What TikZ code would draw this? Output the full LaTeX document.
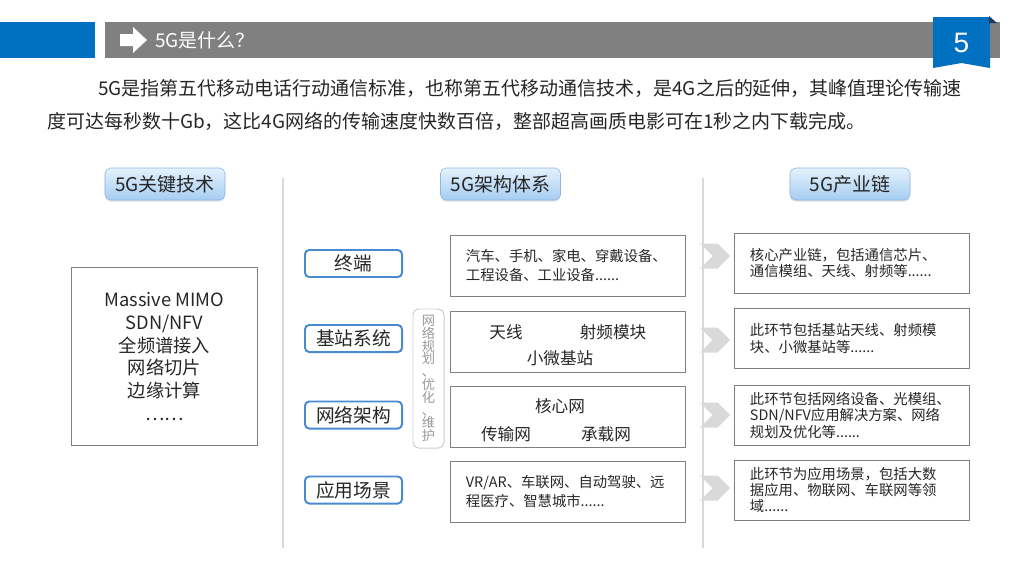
\documentclass[tikz,border=0pt]{standalone}
\usepackage{fontspec}
\setmainfont{Noto Sans CJK SC}
\newfontfamily\numfont{Liberation Sans}
\usepackage{xcolor}
\usepackage{tikz}
\usetikzlibrary{positioning,shapes.symbols,shadows}
\definecolor{mainblue}{HTML}{0070C0}
\definecolor{bargray}{HTML}{808080}
\definecolor{navy}{HTML}{1F3864}
\definecolor{lblue}{HTML}{4A8BD0}
\definecolor{hdtop}{HTML}{E4F1FC}
\definecolor{hdbot}{HTML}{A6CDF2}
\definecolor{hdline}{HTML}{8AB6E2}
\definecolor{sepgray}{HTML}{D9D9D9}
\definecolor{boxgray}{HTML}{808080}
\definecolor{txt}{HTML}{262626}

\begin{document}
\begin{tikzpicture}[x=0.025cm, y=-0.025cm,
  hd/.style={draw=hdline, rounded corners=4pt, top color=hdtop, bottom color=hdbot,
    minimum width=3cm, minimum height=0.8cm, font=\fontsize{13.5}{15}\selectfont, text=txt,
    drop shadow={opacity=0.25, shadow xshift=0pt, shadow yshift=-1.2pt}},
  lb/.style={draw=lblue, line width=1.4pt, rounded corners=3pt, fill=white,
    minimum width=2.425cm, minimum height=0.675cm, font=\fontsize{13.3}{15}\selectfont, text=txt},
  bx/.style={draw=boxgray, line width=0.7pt, minimum width=5.85cm, minimum height=1.525cm, text=txt},
  tw/.style={text width=5.1cm, inner xsep=0.375cm, align=left},
  sm/.style={tw, font=\fontsize{10.2}{13.5}\selectfont},
  rs/.style={tw, minimum height=1.5cm, font=\fontsize{10.2}{11.7}\selectfont},
  md/.style={font=\fontsize{11.8}{13}\selectfont, text=txt},
  pp/.style={anchor=west, inner sep=0pt, font=\fontsize{13.5}{15}\selectfont, text=txt},
  ch/.style={shape=signal, signal from=west, signal to=east, fill=sepgray,
    minimum width=0.75cm, minimum height=0.625cm, inner sep=0pt},
  sep/.style={draw=sepgray, line width=0.8pt}]
\useasboundingbox (0,0) rectangle (1024,575);

\fill[mainblue] (0,22) rectangle (95,58);
\fill[bargray] (105,22) rectangle (1000,58);
\fill[white] (120,34) -- (133,34) -- (133,27) -- (147,40) -- (133,53) -- (133,46) -- (120,46) -- cycle;
\node[anchor=west, inner sep=0pt, text=white, font=\fontsize{13.5}{15}\selectfont] (ttl) at (155,40) {5G是什么？};
\fill[mainblue] (933,17) -- (990,17) -- (990,68) -- (961.5,63) -- (933,68) -- cycle;
\fill[navy] (989,16) -- (997,23) -- (989,23) -- cycle;
\node[text=white, font=\numfont\fontsize{20}{22}\selectfont] (pg) at (961.5,43) {5};

\node[pp] (p1) at (98,88) {\XeTeXlinebreaklocale "zh"\XeTeXlinebreakskip=0pt plus 3pt\relax
  \makebox[21.75cm][s]{5G是指第五代移动电话行动通信标准，也称第五代移动通信技术，是4G之后的延伸，其峰值理论传输速}};
\node[pp] (p2) at (47,121) {度可达每秒数十Gb，这比4G网络的传输速度快数百倍，整部超高画质电影可在1秒之内下载完成。};

\draw[sep] (283,178) -- (283,548);
\draw[sep] (703,178) -- (703,548);

\node[hd] (h1) at (165,184) {5G关键技术};
\node[hd] (h2) at (500.5,184) {5G架构体系};
\node[hd] (h3) at (850,184) {5G产业链};

\node[draw=boxgray, line width=0.7pt, minimum width=4.625cm, minimum height=4.425cm, align=center,
  font=\fontsize{13}{16.3}\selectfont, text=txt] (kt) at (164.5,356.5)
  {Massive MIMO\\SDN/NFV\\全频谱接入\\网络切片\\边缘计算\\……};

\node[lb] (l1) at (353.5,263.5) {终端};
\node[lb] (l2) at (353.5,338.5) {基站系统};
\node[lb] (l3) at (353.5,415) {网络架构};
\node[lb] (l4) at (353.5,490) {应用场景};

\node[draw=gray!40, rounded corners=4pt, line width=0.7pt, minimum width=0.775cm, minimum height=3.475cm,
  align=center, font=\fontsize{9.4}{9.1}\selectfont, text=gray!80] (gh) at (428.5,378.5)
  {网\\络\\规\\划\\、\\优\\化\\、\\维\\护};

\node[bx, sm] (b1) at (568,265.5) {汽车、手机、家电、穿戴设备、\\工程设备、工业设备......};
\node[bx] (b2) at (568,341.5) {};
\node[md] (b2a) at (506,332) {天线};
\node[md] (b2b) at (613,332) {射频模块};
\node[md] (b2c) at (560,358) {小微基站};
\node[bx] (b3) at (568,417) {};
\node[md] (b3a) at (560,406) {核心网};
\node[md] (b3b) at (506,434) {传输网};
\node[md] (b3c) at (606,434) {承载网};
\node[bx, sm] (b4) at (568,492) {VR/AR、车联网、自动驾驶、远\\程医疗、智慧城市......};

\node[ch] (c1) at (715,256) {};
\node[ch] (c2) at (715,340) {};
\node[ch] (c3) at (715,415) {};
\node[ch] (c4) at (715,488) {};

\node[bx, rs] (r1) at (852,263) {核心产业链，包括通信芯片、\\通信模组、天线、射频等......};
\node[bx, rs] (r2) at (852,338.5) {此环节包括基站天线、射频模\\块、小微基站等......};
\node[bx, rs] (r3) at (852,415) {此环节包括网络设备、光模组、\\SDN/NFV应用解决方案、网络\\规划及优化等......};
\node[bx, rs] (r4) at (852,490) {此环节为应用场景，包括大数\\据应用、物联网、车联网等领\\域......};
\end{tikzpicture}
\end{document}
